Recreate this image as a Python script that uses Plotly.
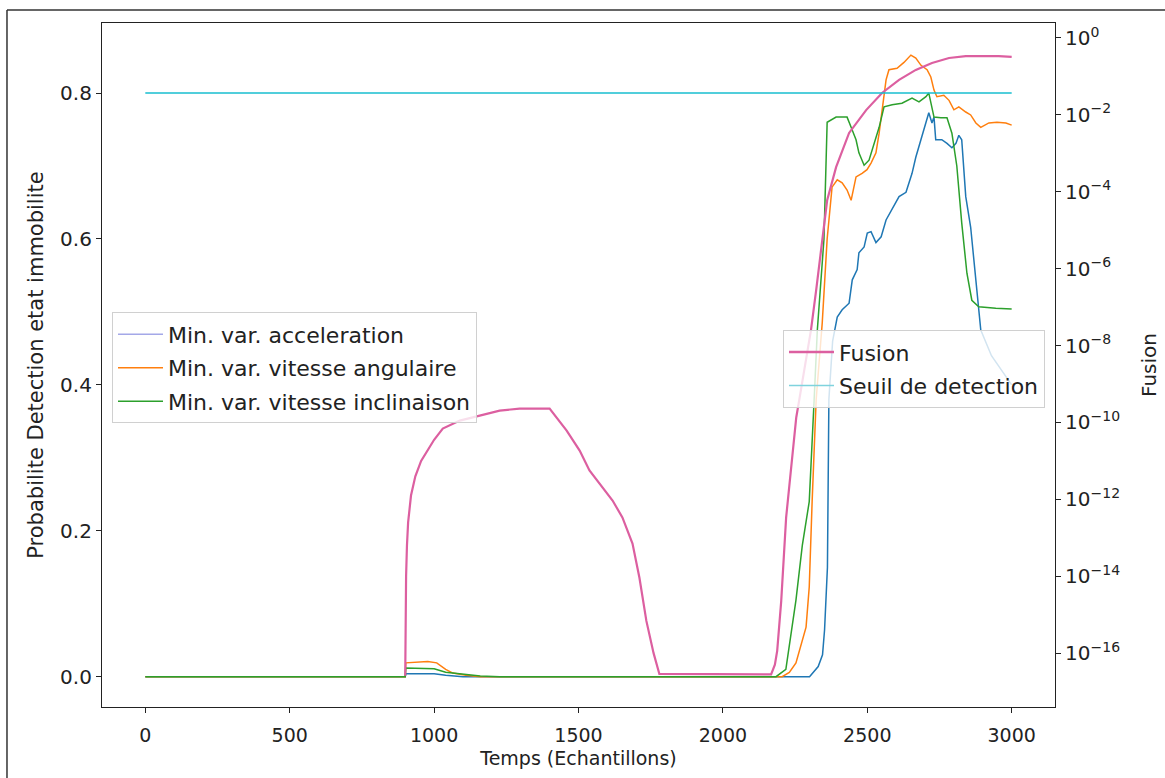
import plotly.graph_objects as go

FONT = "DejaVu Sans"

# ---- data ----
acc_x = [0, 900, 902, 1000, 1040, 1100, 2300, 2312, 2330, 2345, 2352, 2362, 2367, 2380,
         2396, 2413, 2437, 2448, 2465, 2471, 2489, 2500, 2513, 2530, 2548, 2565, 2586, 2610,
         2634, 2655, 2668, 2686, 2703, 2713, 2724, 2731, 2737, 2758, 2776, 2793, 2807, 2817,
         2827, 2841, 2858, 2876, 2893, 2930, 2965, 3000]
acc_y = [0, 0, 0.004, 0.004, 0.002, 0.0, 0.0, 0.006, 0.014, 0.030, 0.064, 0.15, 0.38, 0.46,
         0.493, 0.503, 0.512, 0.544, 0.558, 0.581, 0.589, 0.608, 0.610, 0.595, 0.603, 0.626,
         0.640, 0.658, 0.664, 0.690, 0.712, 0.736, 0.759, 0.773, 0.759, 0.767, 0.736, 0.736,
         0.731, 0.725, 0.731, 0.742, 0.736, 0.658, 0.616, 0.544, 0.475, 0.44, 0.42, 0.40]

ang_x = [0, 900, 902, 950, 978, 1009, 1040, 1065, 1110, 1160, 2205, 2230, 2253, 2288, 2299,
         2309, 2323, 2344, 2361, 2378, 2396, 2413, 2430, 2444, 2461, 2482, 2499, 2513, 2530,
         2541, 2551, 2565, 2575, 2603, 2627, 2651, 2668, 2686, 2707, 2720, 2731, 2741, 2765,
         2783, 2800, 2817, 2841, 2858, 2876, 2893, 2921, 2949, 2980, 3000]
ang_y = [0, 0, 0.019, 0.020, 0.021, 0.019, 0.010, 0.005, 0.002, 0.0, 0.0, 0.006, 0.019,
         0.068, 0.123, 0.24, 0.38, 0.485, 0.60, 0.671, 0.681, 0.677, 0.667, 0.653, 0.685,
         0.690, 0.695, 0.704, 0.718, 0.745, 0.777, 0.818, 0.832, 0.834, 0.842, 0.852, 0.848,
         0.838, 0.832, 0.822, 0.804, 0.795, 0.797, 0.790, 0.777, 0.781, 0.774, 0.770, 0.759,
         0.753, 0.759, 0.760, 0.759, 0.756]

inc_x = [0, 900, 902, 960, 1000, 1040, 1100, 1160, 1227, 2184, 2218, 2253, 2275, 2299, 2316,
         2327, 2350, 2361, 2392, 2430, 2444, 2461, 2471, 2489, 2506, 2523, 2541, 2558, 2586,
         2620, 2655, 2679, 2703, 2713, 2731, 2755, 2776, 2793, 2810, 2827, 2845, 2862, 2886,
         2945, 3000]
inc_y = [0, 0, 0.012, 0.012, 0.011, 0.006, 0.003, 0.001, 0.0, 0.0, 0.010, 0.105, 0.18, 0.24,
         0.38, 0.475, 0.60, 0.76, 0.767, 0.767, 0.753, 0.736, 0.718, 0.701, 0.708, 0.731,
         0.753, 0.781, 0.784, 0.786, 0.793, 0.788, 0.795, 0.800, 0.767, 0.766, 0.766, 0.745,
         0.700, 0.622, 0.553, 0.516, 0.507, 0.505, 0.504]

fus_x = [900, 901, 903, 906, 910, 920, 935, 955, 975, 1000, 1030, 1089, 1158, 1227, 1296,
         1400, 1459, 1504, 1538, 1573, 1618, 1652, 1687, 1711, 1735, 1760, 1780, 2167, 2180,
         2188, 2202, 2219, 2236, 2254, 2264, 2285, 2305, 2323, 2340, 2361, 2392, 2437, 2496,
         2551, 2610, 2668, 2724, 2783, 2841, 2897, 2955, 3000]
fus_log = [-16.59, -15.5, -14.0, -13.2, -12.6, -11.9, -11.4, -11.0, -10.75, -10.45, -10.16,
           -9.95, -9.82, -9.69, -9.64, -9.64, -10.21, -10.73, -11.25, -11.59, -12.03, -12.47,
           -13.15, -14.04, -15.16, -16.0, -16.54, -16.55, -16.3, -15.94, -14.64, -12.47,
           -11.17, -9.87, -9.43, -8.5, -7.60, -6.56, -5.44, -4.22, -3.36, -2.47, -1.875, -1.43,
           -1.09, -0.83, -0.65, -0.52, -0.47, -0.47, -0.47, -0.49]
fus_y = [10 ** v for v in fus_log]

seuil_x = [0, 3000]
seuil_y = [0.0372, 0.0372]

x_ticks = [0, 500, 1000, 1500, 2000, 2500, 3000]
y_ticks = [0.0, 0.2, 0.4, 0.6, 0.8]
y2_exps = [0, -2, -4, -6, -8, -10, -12, -14, -16]

names = ["Min. var. acceleration", "Min. var. vitesse angulaire",
         "Min. var. vitesse inclinaison", "Fusion", "Seuil de detection"]

fig = go.Figure()

fig.add_trace(go.Scatter(x=acc_x, y=acc_y, mode="lines", name=names[0], showlegend=False,
                         line=dict(color="#1f77b4", width=1.5)))
fig.add_trace(go.Scatter(x=ang_x, y=ang_y, mode="lines", name=names[1], showlegend=False,
                         line=dict(color="#ff7f0e", width=1.5)))
fig.add_trace(go.Scatter(x=inc_x, y=inc_y, mode="lines", name=names[2], showlegend=False,
                         line=dict(color="#2ca02c", width=1.5)))
fig.add_trace(go.Scatter(x=fus_x, y=fus_y, mode="lines", name=names[3], showlegend=False,
                         yaxis="y2", line=dict(color="#dc5fa0", width=2.2)))
fig.add_trace(go.Scatter(x=seuil_x, y=seuil_y, mode="lines", name=names[4], showlegend=False,
                         yaxis="y2", line=dict(color="#17becf", width=1.5)))

# legend entries
leg_colors = ["#a4a8e8", "#ff7f0e", "#2ca02c", "#dc5fa0", "#7fd3dd"]
leg_widths = [1.5, 1.5, 1.5, 2.5, 1.5]
leg_ids = ["legend", "legend", "legend", "legend2", "legend2"]
for i, n in enumerate(names):
    fig.add_trace(go.Scatter(x=[None], y=[None], mode="lines", name=n, legend=leg_ids[i],
                             legendgroup="g%d" % i, showlegend=True,
                             yaxis="y2" if i >= 3 else "y",
                             line=dict(color=leg_colors[i], width=leg_widths[i])))

axis_common = dict(showline=True, linecolor="#222", linewidth=1.2, ticks="outside",
                   ticklen=5, tickwidth=1.2, tickcolor="#222", showgrid=False, zeroline=False,
                   automargin=False)

fig.update_layout(
    width=1165, height=778,
    margin=dict(l=102, r=110, t=23, b=71, autoexpand=False),
    paper_bgcolor="white", plot_bgcolor="white",
    font=dict(family=FONT, size=18, color="#222"),
    xaxis=dict(range=[-150, 3150], tickvals=x_ticks, mirror=True,
               tickfont=dict(family=FONT, size=19, color="#222"), ticklabelstandoff=6,
               title=dict(text="Temps (Echantillons)", font=dict(family=FONT, size=19),
                          standoff=6),
               **axis_common),
    yaxis=dict(range=[-0.0415, 0.896], tickvals=y_ticks, ticktext=["%.1f" % v for v in y_ticks],
               tickfont=dict(family=FONT, size=20, color="#222"),
               title=dict(text="Probabilite Detection etat immobilite",
                          font=dict(family=FONT, size=21), standoff=10),
               **axis_common),
    yaxis2=dict(type="log", overlaying="y", side="right", range=[-17.4, 0.39],
                tickvals=[10 ** e for e in y2_exps],
                tickfont=dict(family=FONT, size=20, color="#222"),
                ticktext=["10<sup>%s</sup>" % (str(e).replace("-", "\u2212")) for e in y2_exps],
                title=dict(text="Fusion", font=dict(family=FONT, size=20), standoff=22),
                **axis_common),
    legend=dict(x=0.0105, y=0.577, xanchor="left", yanchor="top",
                bgcolor="rgba(255,255,255,0.8)", bordercolor="#d0d0d0", borderwidth=1,
                font=dict(family=FONT, size=22, color="#222"), tracegroupgap=2,
                itemwidth=45),
    legend2=dict(x=0.9895, y=0.551, xanchor="right", yanchor="top",
                 bgcolor="rgba(255,255,255,0.8)", bordercolor="#d0d0d0", borderwidth=1,
                 font=dict(family=FONT, size=22, color="#222"), tracegroupgap=2,
                 itemwidth=45),
    shapes=[
        dict(type="line", xref="paper", yref="paper", x0=-0.0997, x1=-0.0997, y0=-0.11, y1=1.019,
             line=dict(color="#333", width=1.5)),
        dict(type="line", xref="paper", yref="paper", x0=-0.0997, x1=1.12, y0=1.019, y1=1.019,
             line=dict(color="#333", width=1.5)),
    ],
)

fig.write_html("out.html")
